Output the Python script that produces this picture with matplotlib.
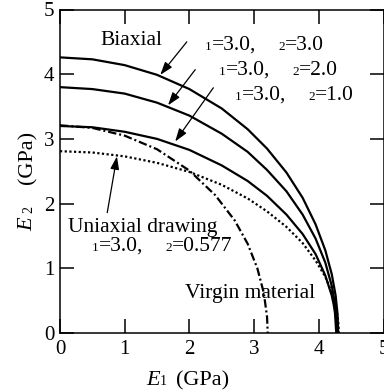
import matplotlib
matplotlib.use('Agg')
import matplotlib.pyplot as plt

plt.rcParams['font.family'] = ['Liberation Serif', 'DejaVu Serif']

# ---- data ----
x_biaxial = [0, 0.5, 1.0, 1.5, 2.0, 2.5, 2.9, 3.2, 3.5, 3.75, 3.95, 4.1, 4.2, 4.26, 4.29, 4.30]
y_biaxial = [4.26, 4.23, 4.14, 3.99, 3.77, 3.47, 3.15, 2.85, 2.48, 2.09, 1.68, 1.28, 0.91, 0.58, 0.29, 0.0]

x_l2_2 = [0, 0.5, 1.0, 1.5, 2.0, 2.5, 2.9, 3.2, 3.5, 3.75, 3.95, 4.1, 4.2, 4.25, 4.27, 4.28]
y_l2_2 = [3.80, 3.77, 3.70, 3.56, 3.36, 3.08, 2.80, 2.52, 2.19, 1.83, 1.46, 1.09, 0.73, 0.45, 0.26, 0.0]

x_l2_1 = [0, 0.5, 1.0, 1.5, 2.0, 2.5, 2.9, 3.2, 3.5, 3.75, 3.95, 4.1, 4.2, 4.23, 4.25, 4.27]
y_l2_1 = [3.20, 3.18, 3.11, 3.00, 2.83, 2.59, 2.35, 2.12, 1.83, 1.53, 1.22, 0.89, 0.58, 0.44, 0.31, 0.0]

x_uni = [0, 0.5, 1.0, 1.5, 2.0, 2.5, 2.9, 3.2, 3.5, 3.75, 3.95, 4.1, 4.2, 4.26, 4.30, 4.31]
y_uni = [2.81, 2.79, 2.73, 2.63, 2.49, 2.29, 2.08, 1.88, 1.64, 1.39, 1.12, 0.87, 0.63, 0.43, 0.19, 0.0]

x_virgin = [0, 0.5, 1.0, 1.5, 2.0, 2.4, 2.7, 2.9, 3.05, 3.15, 3.20, 3.21]
y_virgin = [3.21, 3.17, 3.05, 2.84, 2.51, 2.13, 1.74, 1.38, 1.00, 0.62, 0.25, 0.0]

ticks = [0, 1, 2, 3, 4, 5]
tick_labels = ['0', '1', '2', '3', '4', '5']

W, H = 384, 392
fig = plt.figure(figsize=(W / 100, H / 100), dpi=100)
ax = fig.add_axes([60 / W, (H - 333) / H, 323.5 / W, 323.5 / H])

lw = 1.6
ax.plot(x_biaxial, y_biaxial, color='k', lw=lw, solid_joinstyle='round')
ax.plot(x_l2_2, y_l2_2, color='k', lw=lw)
ax.plot(x_l2_1, y_l2_1, color='k', lw=lw)
ax.plot(x_uni, y_uni, color='k', lw=lw, ls=(0, (1, 1.1)))
ax.plot(x_virgin, y_virgin, color='k', lw=lw, ls=(0, (3.8, 1.3, 0.9, 1.3)))

ax.set_xlim(0, 5)
ax.set_ylim(0, 5)
ax.set_xticks(ticks)
ax.set_xticklabels(tick_labels)
ax.set_yticks(ticks)
ax.set_yticklabels(tick_labels)
ax.tick_params(direction='in', length=10, width=1.1, top=True, right=True,
               labelsize=15, colors='k')
ax.tick_params(axis='x', pad=5)
ax.tick_params(axis='y', pad=4)
for s in ax.spines.values():
    s.set_linewidth(1.1)

# arrows
ap = dict(arrowstyle='-|>,head_length=0.65,head_width=0.22', color='k', lw=0.9,
          shrinkA=0, shrinkB=0, mutation_scale=12)
ax.annotate('', xy=(1.55, 3.99), xytext=(1.96, 4.50), arrowprops=ap)
ax.annotate('', xy=(1.67, 3.52), xytext=(2.09, 4.07), arrowprops=ap)
ax.annotate('', xy=(1.78, 2.96), xytext=(2.37, 3.79), arrowprops=ap)
ax.annotate('', xy=(0.88, 2.73), xytext=(0.73, 1.86), arrowprops=ap)

FS = 15.5


def ptext(px, py, s, size=FS, **kw):
    kw.setdefault('ha', 'left')
    kw.setdefault('va', 'baseline')
    fig.text(px / W, 1 - py / H, s, fontsize=size, **kw)


def lam(px, py, v1, v2):
    ptext(px, py, '1', size=9.5)
    ptext(px + 7, py, '=' + v1 + ',')
    ptext(px + 73, py, '2', size=9.5)
    ptext(px + 80, py, '=' + v2)


ptext(100, 45, 'Biaxial')
lam(205, 50, '3.0', '3.0')
lam(219, 75, '3.0', '2.0')
lam(235, 100, '3.0', '1.0')
ptext(68, 232, 'Uniaxial drawing')
lam(92, 251, '3.0', '0.577')
ptext(315, 298, 'Virgin material', ha='right')

# x label
ptext(146, 385, 'E', size=16, style='italic')
ptext(160, 385, '1', size=10)
ptext(176, 385, '(GPa)', size=16)


# y label (rotated)
def rtext(px, py, s, size=16, **kw):
    fig.text(px / W, 1 - py / H, s, fontsize=size, rotation=90,
             rotation_mode='anchor', ha='left', va='baseline', **kw)


rtext(32, 231, 'E', style='italic')
rtext(32, 213, '2', size=10)
rtext(32, 184, '(GPa)')

fig.savefig('out.png', dpi=100)
